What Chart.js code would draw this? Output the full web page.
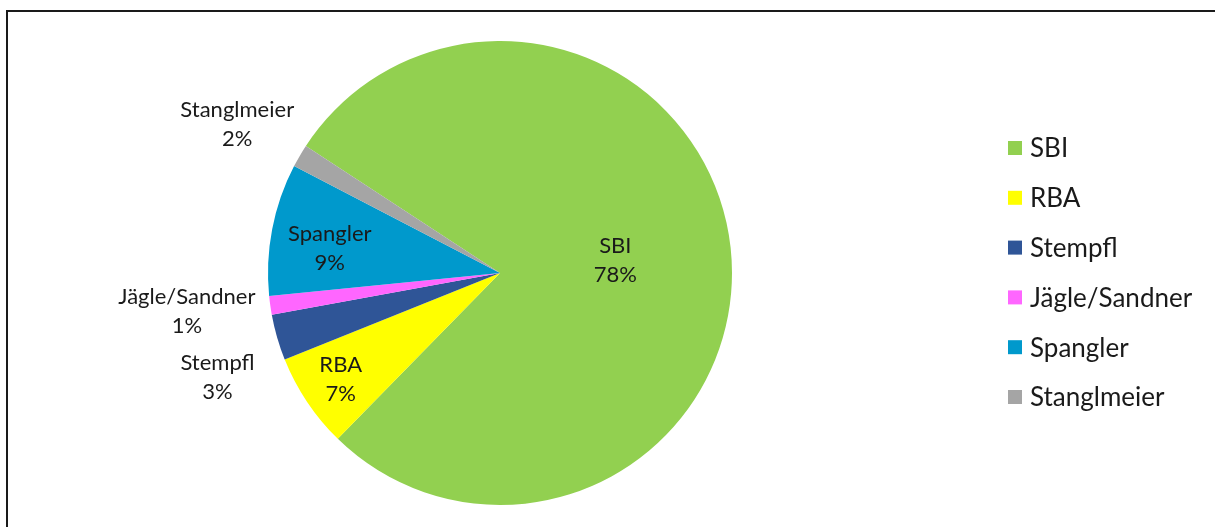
<!DOCTYPE html>
<html>
<head>
<meta charset="utf-8">
<script src="https://cdn.jsdelivr.net/npm/chart.js@4/dist/chart.umd.min.js"></script>
<style>
  html, body { margin: 0; padding: 0; background: #ffffff; }
  #wrap { width: 1215px; height: 527px; }
</style>
</head>
<body>
<div id="wrap"><canvas id="c" width="1215" height="527"></canvas></div>
<script>
// ---- data ----
const categories = ['SBI', 'RBA', 'Stempfl', 'Jägle/Sandner', 'Spangler', 'Stanglmeier'];
const shares = [78.1, 6.6, 3.2, 1.3, 9.2, 1.6];
const sliceColors = ['#92D050', '#FFFF00', '#2F5597', '#FF66FF', '#0099CC', '#A5A5A5'];

// ---- label placement (style): radial factor along slice mid-angle + small nudge ----
const labelFactor = [0.5, 0.826, 1.299, 1.363, 0.747, 1.302];
const labelNudgeX = [0, 0, 7, 0, 0, -2];
const labelNudgeY = [0, 0, 21, -6, 8, 4];

const FONT = 'Lato, "Open Sans", sans-serif';
const LABEL_SIZE = 22;
const LEGEND_SIZE = 26;

const total = shares.reduce((a, b) => a + b, 0);
const pctLabels = shares.map(v => Math.round(v / total * 100) + '%');

const decorPlugin = {
  id: 'decor',
  beforeDraw(chart) {
    const ctx = chart.ctx;
    ctx.save();
    ctx.fillStyle = '#ffffff';
    ctx.fillRect(0, 0, chart.width, chart.height);
    ctx.restore();
  },
  afterDraw(chart) {
    const ctx = chart.ctx;
    // frame
    ctx.save();
    ctx.strokeStyle = '#1a1a1a';
    ctx.lineWidth = 2;
    ctx.beginPath();
    ctx.moveTo(7, chart.height + 5);
    ctx.lineTo(7, 11);
    ctx.lineTo(chart.width + 5, 11);
    ctx.stroke();
    ctx.restore();

    // data labels
    const meta = chart.getDatasetMeta(0);
    ctx.save();
    ctx.font = LABEL_SIZE + 'px ' + FONT;
    ctx.fillStyle = '#1a1a1a';
    ctx.textAlign = 'center';
    ctx.textBaseline = 'middle';
    const lineH = 29;
    meta.data.forEach((arc, i) => {
      const p = arc.getProps(['x', 'y', 'startAngle', 'endAngle', 'outerRadius'], true);
      const mid = (p.startAngle + p.endAngle) / 2;
      const r = p.outerRadius * labelFactor[i];
      const x = p.x + Math.cos(mid) * r + labelNudgeX[i];
      const y = p.y + Math.sin(mid) * r + labelNudgeY[i];
      ctx.fillText(categories[i], x, y - lineH / 2);
      ctx.fillText(pctLabels[i], x, y + lineH / 2);
    });
    ctx.restore();

    // legend
    ctx.save();
    ctx.font = LEGEND_SIZE + 'px ' + FONT;
    ctx.textAlign = 'left';
    ctx.textBaseline = 'middle';
    const lx = 1008, ly0 = 148, step = 49.8, box = 14;
    categories.forEach((name, i) => {
      const cy = ly0 + i * step;
      ctx.fillStyle = sliceColors[i];
      ctx.fillRect(lx, cy - box / 2, box, box);
      ctx.fillStyle = '#1a1a1a';
      ctx.fillText(name, lx + 22, cy + 1);
    });
    ctx.restore();
  }
};

new Chart(document.getElementById('c'), {
  type: 'pie',
  data: {
    labels: categories,
    datasets: [{
      data: shares,
      backgroundColor: sliceColors,
      borderWidth: 0
    }]
  },
  options: {
    responsive: false,
    devicePixelRatio: 1,
    animation: false,
    rotation: -56.8,
    layout: { padding: { top: 41, bottom: 22, left: 0, right: 215 } },
    plugins: {
      legend: { display: false },
      tooltip: { enabled: false }
    }
  },
  plugins: [decorPlugin]
});
</script>
</body>
</html>
